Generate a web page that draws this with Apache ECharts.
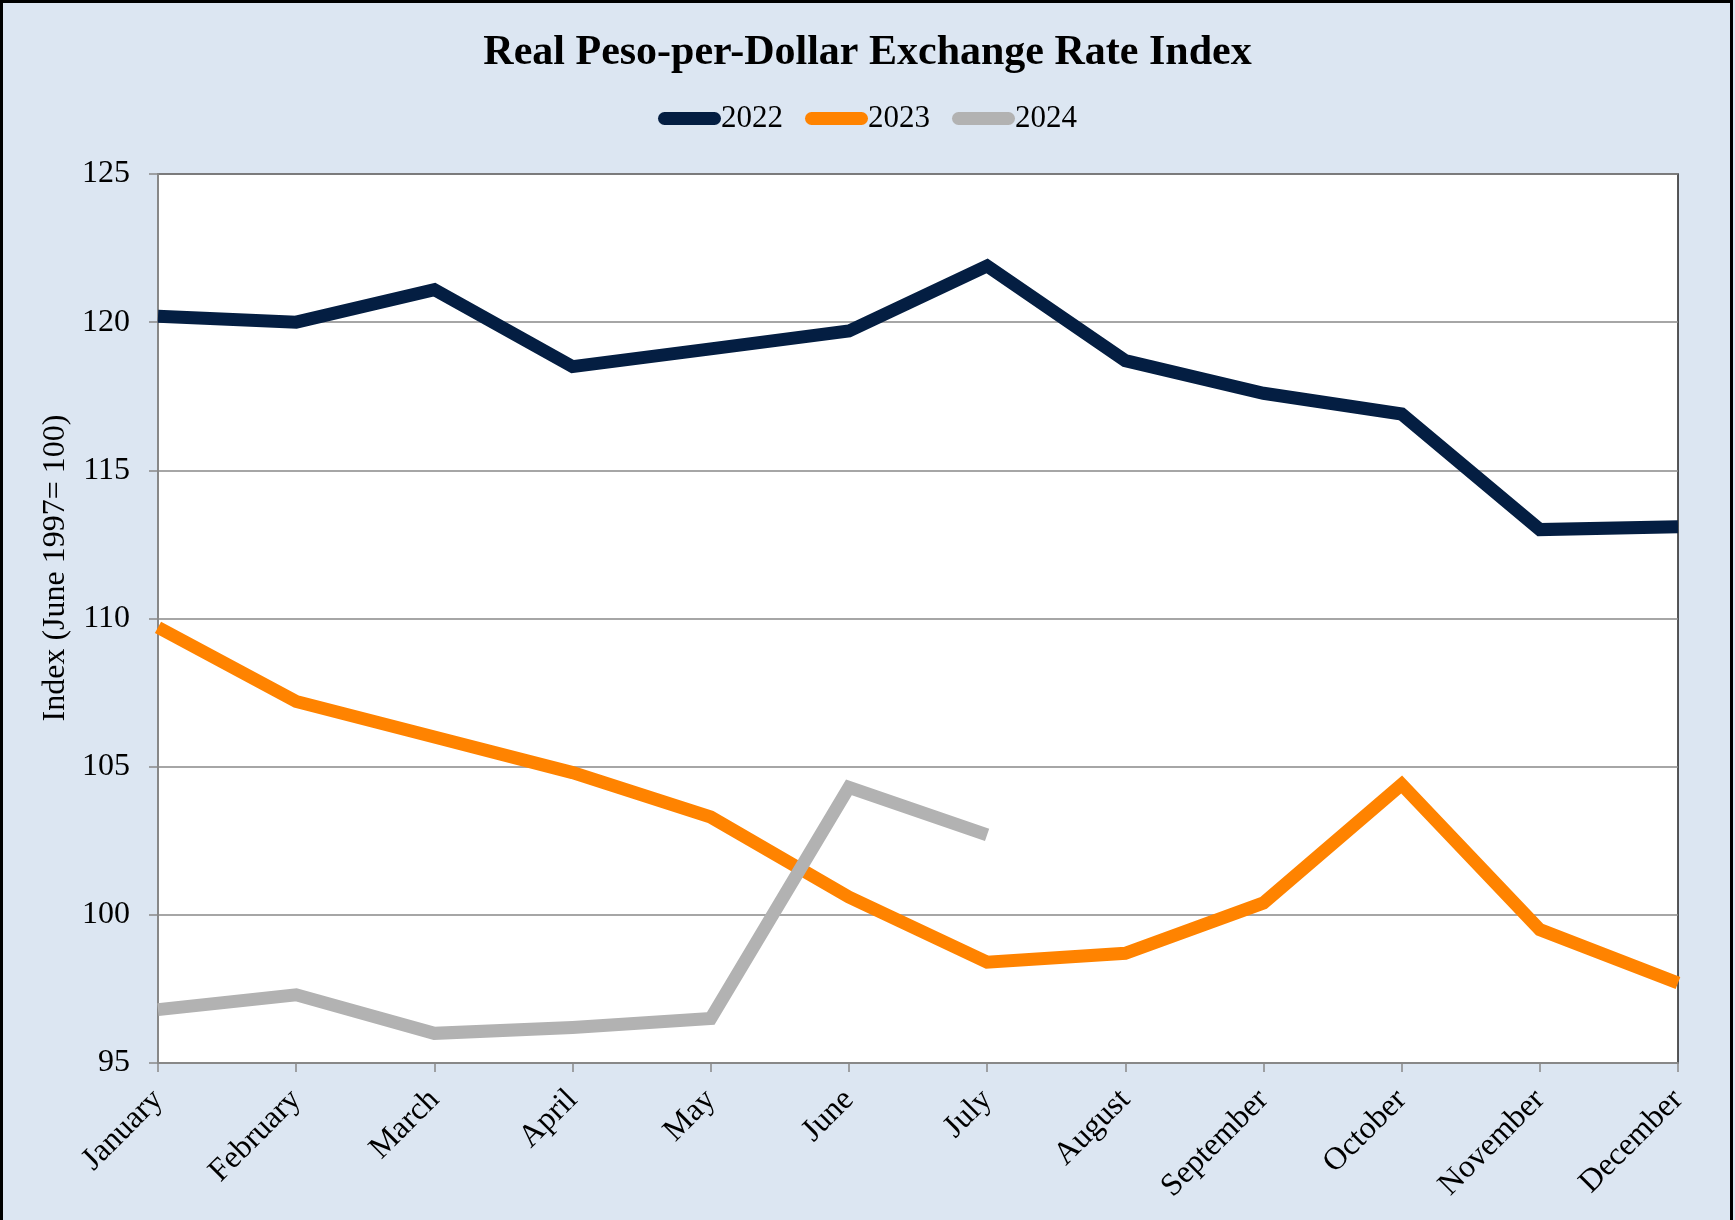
<!DOCTYPE html>
<html>
<head>
<meta charset="utf-8">
<script src="https://cdn.jsdelivr.net/npm/echarts@6/dist/echarts.min.js"></script>
<style>
  html, body { margin: 0; padding: 0; background: #fff; }
  #wrap { position: relative; width: 1735px; height: 1220px; overflow: hidden; }
  #chart { position: absolute; left: 0; top: 0; width: 1735px; height: 1220px; }
  #frame { position: absolute; left: 0; top: 0; width: 1733px; height: 1300px; border: 3px solid #000; box-sizing: border-box; pointer-events: none; }
</style>
</head>
<body>
<div id="wrap">
  <div id="chart"></div>
  <div id="frame"></div>
</div>
<script>
const months = ['January', 'February', 'March', 'April', 'May', 'June', 'July', 'August', 'September', 'October', 'November', 'December']
const y2022 = [120.2, 120.0, 121.1, 118.5, 119.1, 119.7, 121.9, 118.7, 117.6, 116.9, 113.0, 113.1]
const y2023 = [109.7, 107.2, 106.0, 104.8, 103.3, 100.6, 98.4, 98.7, 100.4, 104.4, 99.5, 97.7]
const y2024 = [96.8, 97.3, 96.0, 96.2, 96.5, 104.3, 102.7]

const font = '"Liberation Serif", "Times New Roman", serif'
// rounded bar for the legend keys
const capsule = 'path://M6.5,0 L56.5,0 A6.5,6.5 0 0 1 56.5,13 L6.5,13 A6.5,6.5 0 0 1 6.5,0 Z'

const chart = echarts.init(document.getElementById('chart'))

function lineSeries (name, data, color) {
  return {
    name: name,
    type: 'line',
    data: data,
    showSymbol: false,
    symbol: 'none',
    lineStyle: { color: color, width: 13, join: 'miter', cap: 'butt' },
    itemStyle: { color: color },
    emphasis: { disabled: true },
    animation: false
  }
}

chart.setOption({
  backgroundColor: '#DCE6F2',
  animation: false,
  title: {
    text: 'Real Peso-per-Dollar Exchange Rate Index',
    left: 'center',
    top: 27,
    textStyle: { fontFamily: font, fontWeight: 'bold', fontSize: 42, color: '#000' }
  },
  legend: {
    top: 98,
    left: 'center',
    icon: capsule,
    itemWidth: 63,
    itemHeight: 13,
    itemGap: 22,
    textStyle: { fontFamily: font, fontSize: 31, color: '#000', padding: [0, 0, 0, -5] },
    data: ['2022', '2023', '2024']
  },
  grid: {
    left: 158,
    top: 174,
    right: 57,
    bottom: 157,
    show: true,
    backgroundColor: '#fff',
    borderColor: '#222',
    borderWidth: 1.5
  },
  xAxis: {
    type: 'category',
    data: months,
    boundaryGap: false,
    axisLine: { lineStyle: { color: '#888', width: 2 } },
    axisTick: { show: true, length: 9, alignWithLabel: true, lineStyle: { color: '#888', width: 1.5 } },
    axisLabel: { rotate: 45, margin: 32, fontFamily: font, fontSize: 32, color: '#000', interval: 0 }
  },
  yAxis: {
    type: 'value',
    min: 95,
    max: 125,
    interval: 5,
    name: 'Index (June 1997= 100)',
    nameLocation: 'middle',
    nameGap: 77,
    nameTextStyle: { fontFamily: font, fontSize: 32, color: '#000', padding: [0, 0, 0, 101] },
    axisLine: { show: true, lineStyle: { color: '#888', width: 2 } },
    axisTick: { show: true, length: 9, lineStyle: { color: '#888', width: 1.5 } },
    axisLabel: { margin: 28, fontFamily: font, fontSize: 32, color: '#000' },
    splitLine: { lineStyle: { color: '#888', width: 1.5 } }
  },
  series: [
    lineSeries('2022', y2022, '#041E42'),
    lineSeries('2023', y2023, '#FF8300'),
    lineSeries('2024', y2024, '#B2B2B2')
  ]
})
</script>
</body>
</html>
